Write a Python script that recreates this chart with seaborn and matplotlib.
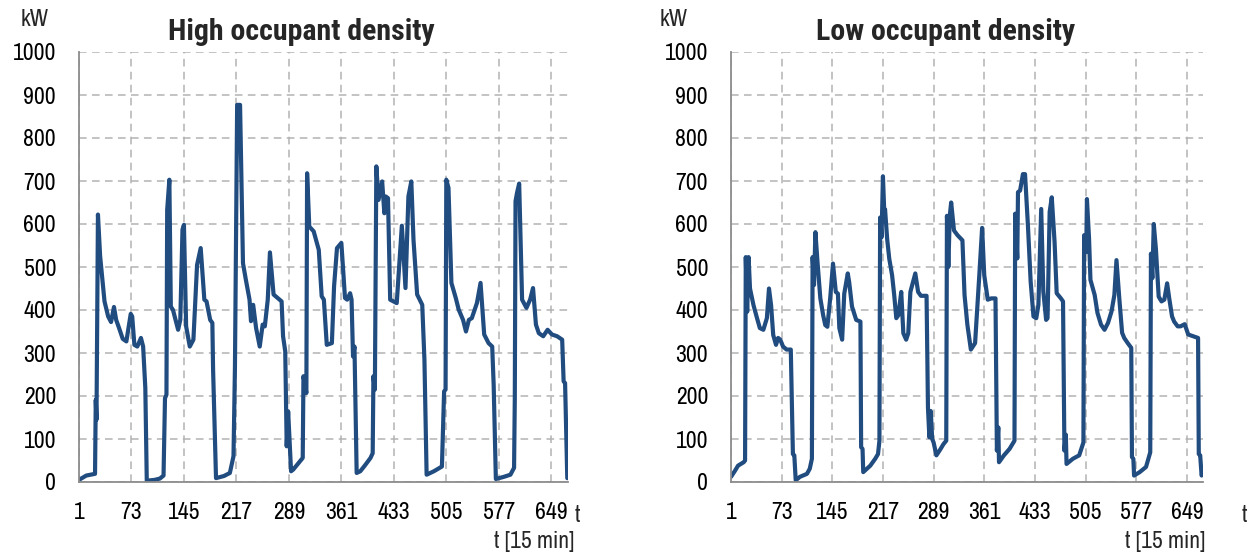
import numpy as np
import pandas as pd
import matplotlib
matplotlib.use("Agg")
import matplotlib.pyplot as plt
from matplotlib import font_manager as fm
import seaborn as sns

# ---------------- data ----------------
high_t = [1, 11, 23, 24, 25, 27, 30, 36, 41, 45, 49, 52, 56, 61, 66, 72, 74, 77, 81, 86, 89, 92, 94,
          105, 112, 117, 119, 121, 122, 125, 127, 130, 137, 140, 143, 145, 148, 153, 158, 163, 168, 173,
          176, 181, 184, 185, 189, 200, 208, 213, 215, 218, 222, 226, 230, 235, 237, 240, 244, 249, 253,
          256, 260, 263, 268, 279, 281, 284, 286, 288, 292, 295, 308, 309, 313, 314, 317, 323, 330, 334,
          337, 341, 348, 351, 355, 361, 366, 369, 373, 375, 377, 379, 382, 387, 394, 401, 404, 405, 407,
          409, 412, 417, 420, 422, 425, 428, 437, 444, 449, 453, 457, 460, 465, 472, 475, 478, 488, 499,
          502, 504, 505, 508, 512, 518, 522, 528, 532, 536, 540, 547, 552, 557, 563, 568, 570, 573, 584,
          593, 598, 599, 600, 602, 605, 609, 615, 620, 624, 628, 632, 638, 644, 650, 657, 664, 666, 668,
          671, 672]
high_kw = [5, 15, 19, 191, 145, 622, 525, 420, 385, 372, 407, 377, 358, 333, 327, 391, 385, 319, 315, 335,
           315, 219, 3, 5, 8, 15, 195, 203, 633, 703, 408, 400, 354, 377, 587, 598, 362, 315, 331, 505, 544,
           424, 420, 377, 370, 261, 9, 14, 21, 60, 269, 877, 877, 509, 470, 424, 374, 412, 358, 315, 366,
           362, 424, 534, 436, 420, 339, 304, 83, 164, 25, 29, 56, 246, 207, 718, 594, 583, 540, 432, 424,
           319, 323, 455, 544, 556, 428, 424, 439, 424, 292, 315, 21, 25, 40, 56, 67, 246, 215, 734, 656,
           699, 625, 664, 660, 424, 416, 596, 451, 664, 699, 563, 436, 412, 284, 17, 25, 36, 211, 215, 703,
           684, 463, 428, 401, 377, 350, 377, 381, 416, 463, 343, 323, 315, 226, 7, 12, 17, 33, 195, 653,
           672, 694, 424, 405, 424, 451, 366, 346, 339, 354, 343, 339, 331, 234, 230, 9, 9]

low_t = [1, 7, 11, 19, 21, 22, 24, 26, 28, 33, 38, 42, 47, 52, 55, 58, 61, 65, 68, 71, 75, 80, 86, 89,
         91, 93, 99, 109, 113, 116, 117, 119, 121, 124, 128, 132, 135, 138, 142, 146, 150, 153, 155, 159,
         162, 167, 169, 173, 179, 185, 186, 188, 189, 199, 206, 210, 212, 213, 215, 217, 219, 220, 223,
         226, 230, 233, 236, 239, 243, 246, 250, 253, 256, 263, 267, 271, 279, 281, 283, 285, 287, 289,
         293, 299, 303, 307, 308, 310, 312, 314, 318, 323, 330, 333, 337, 342, 348, 354, 358, 361, 366,
         371, 377, 379, 381, 382, 389, 397, 404, 405, 408, 409, 412, 416, 419, 423, 427, 431, 435, 438,
         442, 445, 449, 451, 454, 457, 461, 464, 470, 473, 475, 477, 478, 484, 487, 496, 502, 503, 506,
         507, 510, 512, 518, 522, 527, 532, 537, 542, 546, 549, 553, 557, 560, 565, 570, 571, 573, 574,
         582, 591, 597, 598, 600, 602, 605, 607, 609, 613, 617, 621, 624, 628, 631, 636, 640, 646, 651,
         658, 665, 666, 668, 670, 672]
low_kw = [12, 27, 38, 46, 50, 523, 396, 523, 450, 411, 381, 358, 354, 381, 450, 411, 342, 319, 335, 331,
          315, 308, 308, 65, 62, 4, 12, 19, 31, 54, 523, 458, 581, 511, 427, 388, 365, 361, 427, 508, 442,
          438, 358, 331, 438, 485, 465, 408, 377, 373, 81, 77, 23, 38, 54, 65, 96, 615, 569, 711, 623, 634,
          565, 519, 481, 435, 381, 388, 442, 346, 331, 346, 442, 485, 442, 433, 433, 173, 104, 165, 100, 92,
          62, 77, 88, 96, 619, 500, 619, 650, 585, 574, 562, 435, 366, 308, 323, 481, 591, 481, 424, 427,
          427, 73, 127, 46, 62, 77, 96, 624, 520, 674, 678, 716, 716, 600, 466, 385, 381, 412, 635, 443,
          377, 381, 628, 662, 558, 439, 427, 420, 73, 110, 42, 50, 54, 62, 92, 574, 535, 658, 566, 470, 435,
          393, 366, 354, 370, 397, 435, 516, 427, 347, 335, 323, 312, 58, 54, 15, 23, 35, 69, 531, 474, 600,
          543, 489, 431, 420, 424, 462, 427, 385, 373, 362, 362, 367, 343, 339, 335, 65, 62, 15, 23]

titles = ["High occupant density", "Low occupant density"]
x_ticks = [1, 73, 145, 217, 289, 361, 433, 505, 577, 649]
y_ticks = [0, 100, 200, 300, 400, 500, 600, 700, 800, 900, 1000]
y_unit = "kW"
x_unit_short = "t"
x_unit_long = "t [15 min]"

# ---------------- style ----------------
sns.set_style("white")


def _w(v):
    if isinstance(v, (int, float)):
        return v
    return {"bold": 700, "heavy": 800, "black": 900, "semibold": 600, "demibold": 600}.get(str(v).lower(), 400)


_entries = fm.fontManager.ttflist
_available = {f.name for f in _entries}
_bold_available = {f.name for f in _entries if _w(f.weight) >= 650 and f.style == "normal"}
_pref = ["Arial Narrow", "Liberation Sans Narrow", "Archivo Narrow", "Roboto Condensed",
         "PT Sans Narrow", "Liberation Sans"]
_pref_bold = ["Arial Narrow", "Liberation Sans Narrow", "Archivo Narrow", "Roboto Condensed",
              "PT Sans Narrow", "Pragati Narrow", "Arimo", "Liberation Sans"]
NARROW = [f for f in _pref if f in _available][:1] + ["DejaVu Sans"]
NARROW_BOLD = [f for f in _pref_bold if f in _bold_available][:1] + ["DejaVu Sans"]
plt.rcParams["font.family"] = NARROW

W, H = 1258, 556
fig = plt.figure(figsize=(W / 100, H / 100), dpi=100)


def fx(px):
    return px / W


def fy(py):
    return 1 - py / H


LINE_COLOR = "#214C80"
GRID_COLOR = "#b3b3b3"
SPINE_COLOR = "#8c8c8c"
FS = 17

panels = [
    dict(t=high_t, kw=high_kw, title=titles[0], x0=79, x1=568, kwx=35, titlex=301, tx=577, tlx=574),
    dict(t=low_t, kw=low_kw, title=titles[1], x0=731, x1=1203, kwx=674, titlex=946, tx=1244, tlx=1205),
]
top_px, bot_px = 52, 482

for p in panels:
    ax = fig.add_axes([fx(p["x0"]), fy(bot_px), fx(p["x1"] - p["x0"]), (bot_px - top_px) / H])
    df = pd.DataFrame({"t": p["t"], "kW": p["kw"]})
    sns.lineplot(data=df, x="t", y="kW", ax=ax, color=LINE_COLOR, linewidth=3.0,
                 estimator=None, sort=False, solid_joinstyle="round", solid_capstyle="round")
    ax.set_xlim(1, 672)
    ax.set_ylim(0, 1000)
    ax.set_xticks(x_ticks)
    ax.set_yticks(y_ticks)
    ax.set_xlabel("")
    ax.set_ylabel("")
    ax.grid(True, linestyle=(0, (5, 3.5)), color=GRID_COLOR, linewidth=1.1)
    ax.set_axisbelow(True)
    for s in ["top", "right"]:
        ax.spines[s].set_visible(False)
    for s in ["left", "bottom"]:
        ax.spines[s].set_color(SPINE_COLOR)
        ax.spines[s].set_linewidth(1.3)
    ax.tick_params(axis="both", direction="out", length=5.5, width=1.2, color=SPINE_COLOR,
                   labelsize=FS, labelcolor="black")
    ax.tick_params(axis="y", pad=11)
    ax.tick_params(axis="x", pad=9)
    fig.text(fx(p["titlex"]), fy(40), p["title"], fontsize=21.5, fontweight="bold",
             ha="center", va="baseline", family=NARROW_BOLD)
    fig.text(fx(p["kwx"]), fy(19), y_unit, fontsize=FS, ha="center", va="center")
    fig.text(fx(p["tx"]), fy(515), x_unit_short, fontsize=FS, ha="center", va="center")
    fig.text(fx(p["tlx"]), fy(542), x_unit_long, fontsize=FS, ha="right", va="center")

fig.savefig("out.png", dpi=100, facecolor="white")
